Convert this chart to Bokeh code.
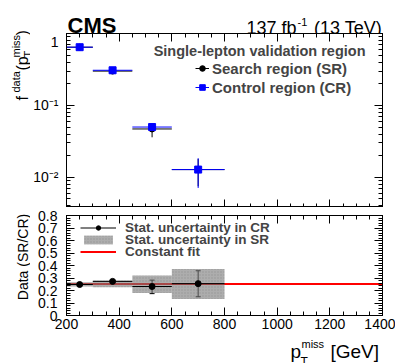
import math
from bokeh.plotting import figure
from bokeh.models import (ColumnDataSource, Label, Legend, LegendItem, LinearAxis, LogAxis,
                          FixedTicker, Whisker, TeeHead, Range1d, CustomJSTickFormatter)
from bokeh.layouts import column, row
from bokeh.embed import file_html
from bokeh.resources import INLINE

# ---------------- data ----------------
bin_lo = [200, 300, 450, 600]
bin_hi = [300, 450, 600, 800]
bin_center = [250, 375, 525, 700]

sr_frac = [0.645, 0.300, 0.047, 0.0128]
sr_err_lo = [0.615, 0.278, 0.036, 0.0075]
sr_err_hi = [0.675, 0.322, 0.056, 0.0180]

cr_frac = [0.645, 0.308, 0.050, 0.0128]
cr_err_lo = [0.625, 0.298, 0.047, 0.0071]
cr_err_hi = [0.665, 0.318, 0.053, 0.0184]

ratio = [0.248, 0.273, 0.232, 0.255]
ratio_lo = [0.240, 0.263, 0.175, 0.150]
ratio_hi = [0.256, 0.283, 0.283, 0.358]
band_lo = [0.232, 0.227, 0.180, 0.133]
band_hi = [0.266, 0.280, 0.320, 0.373]
fit_value = 0.253

x_min, x_max = 200, 1400
y1_min, y1_max = 0.0038, 1.0
y2_min, y2_max = 0.0, 0.8

x_major = list(range(200, 1401, 200))
x_minor = [v for v in range(200, 1401, 50) if v % 200]
log_major = [0.01, 0.1, 1.0]
log_minor = [m * 10.0 ** e for e in (-3, -2, -1) for m in range(2, 10)]
lin_major = [k / 10 for k in range(0, 9)]
lin_minor = [k / 50 for k in range(0, 41) if k % 5]

FONT = "Liberation Sans"
BLUE = "#0000ff"
STRIP_W = 30          # left strip holding the rotated axis titles
LB, RB = 33, 16       # borders of the main panels
FRAME_W = 316
TOTAL_H = 363


def style_axis(ax, label_size="14px", maj=8, mnr=4, standoff=4):
    ax.axis_line_color = "black"
    ax.major_tick_line_color = "black"
    ax.minor_tick_line_color = "black"
    ax.major_tick_in = maj
    ax.major_tick_out = 0
    ax.minor_tick_in = mnr
    ax.minor_tick_out = 0
    ax.major_label_standoff = standoff
    ax.major_label_text_font = FONT
    ax.major_label_text_color = "black"
    ax.major_label_text_font_size = label_size


def tick_only_axes(p, side, majors, minors, log=False):
    Axis = LogAxis if log else LinearAxis
    for ticks, length in ((majors, 8), (minors, 4)):
        ax = Axis(ticker=FixedTicker(ticks=[], minor_ticks=ticks))
        ax.axis_line_color = "black"
        ax.minor_tick_line_color = "black"
        ax.minor_tick_in = length
        ax.minor_tick_out = 0
        ax.major_tick_in = 0
        ax.major_tick_out = 0
        ax.major_label_standoff = 0
        p.add_layout(ax, side)


def base_fig(fh, y_range, log, top, bottom, x_axis):
    p = figure(frame_width=FRAME_W, frame_height=fh,
               x_range=Range1d(x_min, x_max), y_range=y_range,
               x_axis_location="below" if x_axis else None,
               y_axis_type="log" if log else "linear",
               output_backend="svg", toolbar_location=None,
               min_border_left=LB, min_border_right=RB,
               min_border_top=top, min_border_bottom=bottom)
    p.xgrid.visible = False
    p.ygrid.visible = False
    p.outline_line_color = "black"
    p.outline_line_width = 1
    p.background_fill_color = "white"
    p.border_fill_color = "white"
    return p


def text_canvas(w, h, lb=0, rb=0):
    # plain canvas (pixel-like data units) that only carries text
    p = figure(frame_width=w, frame_height=h, x_range=Range1d(0, w), y_range=Range1d(0, h),
               x_axis_location=None, y_axis_location=None,
               output_backend="svg", toolbar_location=None,
               min_border_left=lb, min_border_right=rb, min_border_top=0, min_border_bottom=0)
    p.xgrid.visible = False
    p.ygrid.visible = False
    p.outline_line_color = None
    p.background_fill_color = "white"
    p.border_fill_color = "white"
    return p


def txt(p, text, x, y, size, bold=False, align="left", angle=0.0, baseline="alphabetic"):
    p.add_layout(Label(x=x, y=y, text=text, angle=angle, text_align=align,
                       text_baseline=baseline, text_font=FONT, text_font_size=size,
                       text_font_style="bold" if bold else "normal", text_color="black"))


# ---------------- header (frame aligned with the panels) ----------------
header = text_canvas(FRAME_W, 33, LB, RB)
txt(header, "CMS", 1, 8, "22px", bold=True)
txt(header, "137 fb", 230, 6, "18px", align="right")
txt(header, "-1", 231, 12, "11px")
txt(header, "(13 TeV)", 315.5, 6, "18px", align="right")

# ---------------- top panel ----------------
p1 = base_fig(174, Range1d(y1_min, y1_max), True, 0, 0, False)

p1.yaxis.ticker = FixedTicker(ticks=log_major, minor_ticks=log_minor)
style_axis(p1.yaxis[0], label_size="14px", standoff=8)
p1.yaxis.formatter = CustomJSTickFormatter(code="""
if (tick > 0.5) return "1";
const e = Math.round(Math.log10(tick));
return e == -1 ? "10\u207b\u00b9" : "10\u207b\u00b2";
""")
tick_only_axes(p1, "below", x_major, x_minor)
tick_only_axes(p1, "above", x_major, x_minor)
tick_only_axes(p1, "right", log_major, log_minor, log=True)

src_sr = ColumnDataSource(dict(x=bin_center, lo=bin_lo, hi=bin_hi, y=sr_frac,
                               ylo=sr_err_lo, yhi=sr_err_hi))
src_cr = ColumnDataSource(dict(x=bin_center, lo=bin_lo, hi=bin_hi, y=cr_frac,
                               ylo=cr_err_lo, yhi=cr_err_hi))

sr_h = p1.segment(x0="lo", y0="y", x1="hi", y1="y", source=src_sr, line_color="black", line_width=1)
sr_v = p1.segment(x0="x", y0="ylo", x1="x", y1="yhi", source=src_sr, line_color="black", line_width=1)
sr_m = p1.scatter("x", "y", source=src_sr, marker="circle", size=6, color="black")

cr_h = p1.segment(x0="lo", y0="y", x1="hi", y1="y", source=src_cr, line_color=BLUE, line_width=1)
cr_v = p1.segment(x0="x", y0="ylo", x1="x", y1="yhi", source=src_cr, line_color=BLUE, line_width=1)
cr_m = p1.scatter("x", "y", source=src_cr, marker="square", size=7, color=BLUE)

leg1 = Legend(items=[LegendItem(label="Search region (SR)", renderers=[sr_h, sr_m]),
                     LegendItem(label="Control region (CR)", renderers=[cr_h, cr_m])],
              location=(129, 111), glyph_width=14, glyph_height=18, label_height=18,
              label_standoff=3, padding=0, spacing=1, margin=0,
              label_text_font=FONT, label_text_font_style="bold",
              label_text_font_size="15px",
              border_line_alpha=0, background_fill_alpha=0)
p1.add_layout(leg1)

p1.add_layout(Label(x=299, y=157, x_units="screen", y_units="screen",
                    text="Single-lepton validation region", text_align="right",
                    text_baseline="middle", text_font=FONT, text_font_style="bold",
                    text_font_size="14.5px"))

# ---------------- bottom panel ----------------
p2 = base_fig(100, Range1d(y2_min, y2_max), False, 8, 20, True)

p2.xaxis.ticker = FixedTicker(ticks=x_major, minor_ticks=x_minor)
style_axis(p2.xaxis[0], label_size="14px", standoff=3)
p2.yaxis.ticker = FixedTicker(ticks=lin_major, minor_ticks=lin_minor)
style_axis(p2.yaxis[0], label_size="14px", standoff=9)
p2.yaxis.formatter = CustomJSTickFormatter(code="""
return Math.abs(tick) < 1e-9 ? "0" : tick.toFixed(1);
""")
tick_only_axes(p2, "above", x_major, x_minor)
tick_only_axes(p2, "right", lin_major, lin_minor)

fit_line = p2.line(x=[x_min, x_max], y=[fit_value, fit_value], line_color="#ff0000", line_width=2)

src_band = ColumnDataSource(dict(lo=bin_lo, hi=bin_hi, b=band_lo, t=band_hi))
band = p2.quad(left="lo", right="hi", bottom="b", top="t", source=src_band,
               fill_color="#777777", fill_alpha=0.6, line_color=None,
               hatch_pattern="dot", hatch_color="#555555", hatch_alpha=0.25, hatch_scale=3)

src_r = ColumnDataSource(dict(x=bin_center, lo=bin_lo, hi=bin_hi, y=ratio,
                              ylo=ratio_lo, yhi=ratio_hi))
r_h = p2.segment(x0="lo", y0="y", x1="hi", y1="y", source=src_r, line_color="black", line_width=1)
wh = Whisker(base="x", lower="ylo", upper="yhi", source=src_r, line_color="black",
             upper_head=TeeHead(size=5, line_color="black"),
             lower_head=TeeHead(size=5, line_color="black"))
p2.add_layout(wh)
r_m = p2.scatter("x", "y", source=src_r, marker="circle", size=6, color="black")

leg_common = dict(glyph_width=36, glyph_height=11, label_height=11, label_standoff=9,
                  padding=0, spacing=0, margin=0, label_text_font=FONT,
                  label_text_font_style="bold", label_text_font_size="13.5px",
                  border_line_alpha=0, background_fill_alpha=0)
for item, ybot in [(LegendItem(label="Stat. uncertainty in CR", renderers=[r_h, r_m]), 80),
                   (LegendItem(label="Stat. uncertainty in SR", renderers=[band]), 68),
                   (LegendItem(label="Constant fit", renderers=[fit_line]), 56)]:
    p2.add_layout(Legend(items=[item], location=(14, ybot), **leg_common))

# ---------------- footer (x axis title, frame aligned with the panels) ----------------
footer = text_canvas(FRAME_W, 28, LB, RB)
txt(footer, "p", 224, 12, "19px")
txt(footer, "miss", 235, 20, "11px")
txt(footer, "T", 234, 1.5, "12px")
txt(footer, "[GeV]", 264, 12, "19px")

# ---------------- left strip (rotated y axis titles) ----------------
strip = text_canvas(STRIP_W, TOTAL_H)
for t, bx, sy, fs in [("f", 22, 263, "16px"), ("data", 15, 271, "11px"),
                      ("(p", 22, 293, "16px"), ("T", 27.5, 306, "11px"),
                      ("miss", 15, 306, "11px"), (")", 22, 328, "16px")]:
    txt(strip, t, bx, sy, fs, angle=math.pi / 2)
txt(strip, "Data (SR/CR)", 22, 106.5, "14px", align="center", angle=math.pi / 2)

layout = row(strip, column(header, p1, p2, footer))
open("out.html", "w", encoding="utf-8").write(file_html(layout, INLINE))
